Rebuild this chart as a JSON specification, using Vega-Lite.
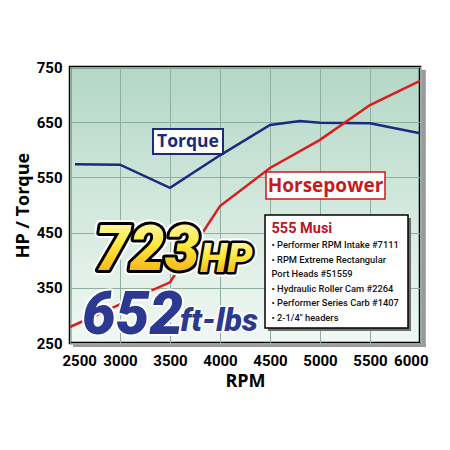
{
  "$schema": "https://vega.github.io/schema/vega-lite/v6.json",
  "width": 350,
  "height": 276,
  "autosize": {"type": "none"},
  "padding": {"left": 70, "top": 67, "right": 30, "bottom": 107},
  "background": "white",
  "view": {
    "stroke": "black",
    "strokeWidth": 2.5,
    "fill": {"gradient": "linear", "x1": 0, "y1": 0, "x2": 0, "y2": 1,
      "stops": [{"offset": 0, "color": "#b3d7c6"}, {"offset": 1, "color": "#f1f8f4"}]}
  },
  "datasets": {
    "curves": [
      {"rpm": 2550, "value": 574, "series": "Torque"},
      {"rpm": 3000, "value": 573, "series": "Torque"},
      {"rpm": 3500, "value": 531, "series": "Torque"},
      {"rpm": 4000, "value": 590, "series": "Torque"},
      {"rpm": 4500, "value": 645, "series": "Torque"},
      {"rpm": 4800, "value": 652, "series": "Torque"},
      {"rpm": 5000, "value": 649, "series": "Torque"},
      {"rpm": 5500, "value": 648, "series": "Torque"},
      {"rpm": 6000, "value": 630, "series": "Torque"},
      {"rpm": 2500, "value": 279, "series": "Horsepower"},
      {"rpm": 3000, "value": 320, "series": "Horsepower"},
      {"rpm": 3500, "value": 360, "series": "Horsepower"},
      {"rpm": 4000, "value": 498, "series": "Horsepower"},
      {"rpm": 4500, "value": 567, "series": "Horsepower"},
      {"rpm": 5000, "value": 618, "series": "Horsepower"},
      {"rpm": 5500, "value": 681, "series": "Horsepower"},
      {"rpm": 6000, "value": 725, "series": "Horsepower"}
    ]
  },
  "layer": [
    {
      "data": {"values": [{}]},
      "mark": {"type": "rect", "fill": "#9a9a9a", "clip": false},
      "encoding": {
        "x": {"datum": 2530, "type": "quantitative"},
        "x2": {"datum": 6060},
        "y": {"datum": 247.8, "type": "quantitative"},
        "y2": {"datum": 242.8}
      }
    },
    {
      "data": {"values": [{}]},
      "mark": {"type": "rect", "fill": "#9a9a9a", "clip": false},
      "encoding": {
        "x": {"datum": 6013, "type": "quantitative"},
        "x2": {"datum": 6058},
        "y": {"datum": 745, "type": "quantitative"},
        "y2": {"datum": 242.8}
      }
    },
    {
      "data": {"name": "curves"},
      "mark": {"type": "line", "strokeWidth": 2.5},
      "encoding": {
        "x": {
          "field": "rpm", "type": "quantitative",
          "scale": {"domain": [2500, 6000], "nice": false, "zero": false},
          "axis": {
            "values": [2500, 3000, 3500, 4000, 4500, 5000, 5500, 6000],
            "format": "d",
            "grid": true, "gridColor": "#8fae9f", "gridWidth": 1,
            "ticks": false, "domain": false,
            "labelFont": "Roboto", "labelFontWeight": "bold", "labelFontSize": 15,
            "labelColor": "black", "labelPadding": 10,
            "labelFlush": true, "labelFlushOffset": 8, "labelOverlap": false,
            "title": "RPM", "titleFont": "Open Sans", "titleFontSize": 18, "titleFontWeight": "bold",
            "titleColor": "black", "titlePadding": 4
          }
        },
        "y": {
          "field": "value", "type": "quantitative",
          "scale": {"domain": [250, 750], "nice": false, "zero": false},
          "axis": {
            "values": [250, 350, 450, 550, 650, 750],
            "format": "d",
            "grid": true, "gridColor": "#8fae9f", "gridWidth": 1,
            "ticks": false, "domain": false,
            "labelFont": "Roboto", "labelFontWeight": "bold", "labelFontSize": 15,
            "labelColor": "black", "labelPadding": 8, "labelOverlap": false,
            "title": "HP / Torque", "titleFont": "Open Sans", "titleFontSize": 18, "titleFontWeight": "bold",
            "titleColor": "black", "titlePadding": 4
          }
        },
        "color": {
          "field": "series", "type": "nominal",
          "scale": {"domain": ["Torque", "Horsepower"], "range": ["#1b2a7d", "#d91e1e"]},
          "legend": null
        },
        "detail": {"field": "series"}
      }
    },
    {
      "data": {"values": [{}]},
      "mark": {"type": "rect", "fill": "white", "stroke": "#1b2a7d", "strokeWidth": 2},
      "encoding": {
        "x": {"datum": 3330, "type": "quantitative"},
        "x2": {"datum": 4030},
        "y": {"datum": 637.7, "type": "quantitative"},
        "y2": {"datum": 592.4}
      }
    },
    {
      "data": {"values": [{}]},
      "mark": {"type": "text", "text": "Torque", "font": "Open Sans", "fontWeight": "bold", "fontSize": 17.5,
        "color": "#1b2a7d", "align": "center", "baseline": "middle"},
      "encoding": {
        "x": {"datum": 3680, "type": "quantitative"},
        "y": {"datum": 615, "type": "quantitative"}
      }
    },
    {
      "data": {"values": [{}]},
      "mark": {"type": "rect", "fill": "white", "stroke": "#c81a1a", "strokeWidth": 1.5},
      "encoding": {
        "x": {"datum": 4460, "type": "quantitative"},
        "x2": {"datum": 5650},
        "y": {"datum": 559.8, "type": "quantitative"},
        "y2": {"datum": 510.9}
      }
    },
    {
      "data": {"values": [{}]},
      "mark": {"type": "text", "text": "Horsepower", "font": "Open Sans", "fontWeight": "bold", "fontSize": 19,
        "color": "#c81a1a", "align": "center", "baseline": "middle"},
      "encoding": {
        "x": {"datum": 5055, "type": "quantitative"},
        "y": {"datum": 535, "type": "quantitative"}
      }
    },
    {
      "data": {"values": [{}]},
      "mark": {"type": "rect", "fill": "#6e6e6e"},
      "encoding": {
        "x": {"datum": 4480, "type": "quantitative"},
        "x2": {"datum": 5910},
        "y": {"datum": 476.4, "type": "quantitative"},
        "y2": {"datum": 271.7}
      }
    },
    {
      "data": {"values": [{}]},
      "mark": {"type": "rect", "fill": "white", "stroke": "black", "strokeWidth": 1.5},
      "encoding": {
        "x": {"datum": 4450, "type": "quantitative"},
        "x2": {"datum": 5880},
        "y": {"datum": 481.9, "type": "quantitative"},
        "y2": {"datum": 277.2}
      }
    },
    {
      "data": {"values": [{}]},
      "mark": {"type": "text", "text": "555 Musi", "font": "Roboto", "fontWeight": "bold", "fontSize": 14.5,
        "color": "#c0141c", "align": "left", "baseline": "alphabetic"},
      "encoding": {
        "x": {"datum": 4515, "type": "quantitative"},
        "y": {"datum": 449, "type": "quantitative"}
      }
    },
    {
      "data": {"values": [{}]},
      "mark": {"type": "text",
        "text": ["• Performer RPM Intake #7111", "• RPM Extreme Rectangular", "\u00a0\u00a0\u00a0Port Heads #51559", "• Hydraulic Roller Cam #2264", "• Performer Series Carb #1407", "• 2-1/4\" headers"],
        "lineHeight": 14.6,
        "font": "Roboto", "fontWeight": 500, "fontSize": 9.3,
        "color": "#111111", "align": "left", "baseline": "alphabetic"},
      "encoding": {
        "x": {"datum": 4515, "type": "quantitative"},
        "y": {"datum": 422, "type": "quantitative"}
      }
    },
    {
      "data": {"values": [{}]},
      "mark": {"type": "text", "text": "723", "font": "Roboto", "fontWeight": 900, "fontStyle": "italic",
        "fontSize": 62, "fill": "white", "stroke": "white", "strokeWidth": 10, "strokeJoin": "round",
        "align": "left", "baseline": "alphabetic"},
      "encoding": {"x": {"datum": 2750, "type": "quantitative"}, "y": {"datum": 382, "type": "quantitative"}}
    },
    {
      "data": {"values": [{}]},
      "mark": {"type": "text", "text": "723", "font": "Roboto", "fontWeight": 900, "fontStyle": "italic",
        "fontSize": 62, "fill": "black", "stroke": "black", "strokeWidth": 6, "strokeJoin": "round",
        "align": "left", "baseline": "alphabetic"},
      "encoding": {"x": {"datum": 2750, "type": "quantitative"}, "y": {"datum": 382, "type": "quantitative"}}
    },
    {
      "data": {"values": [{}]},
      "mark": {"type": "text", "text": "723", "font": "Roboto", "fontWeight": 900, "fontStyle": "italic",
        "fontSize": 62,
        "fill": {"gradient": "linear", "x1": 0, "y1": 0, "x2": 0, "y2": 1,
          "stops": [{"offset": 0, "color": "#fffbd2"}, {"offset": 0.45, "color": "#ffe93a"}, {"offset": 1, "color": "#f29a10"}]},
        "align": "left", "baseline": "alphabetic"},
      "encoding": {"x": {"datum": 2750, "type": "quantitative"}, "y": {"datum": 382, "type": "quantitative"}}
    },
    {
      "data": {"values": [{}]},
      "mark": {"type": "text", "text": "HP", "font": "Roboto", "fontWeight": 900, "fontStyle": "italic",
        "fontSize": 40, "fill": "white", "stroke": "white", "strokeWidth": 9, "strokeJoin": "round",
        "align": "left", "baseline": "alphabetic"},
      "encoding": {"x": {"datum": 3800, "type": "quantitative"}, "y": {"datum": 378.6, "type": "quantitative"}}
    },
    {
      "data": {"values": [{}]},
      "mark": {"type": "text", "text": "HP", "font": "Roboto", "fontWeight": 900, "fontStyle": "italic",
        "fontSize": 40, "fill": "black", "stroke": "black", "strokeWidth": 5, "strokeJoin": "round",
        "align": "left", "baseline": "alphabetic"},
      "encoding": {"x": {"datum": 3800, "type": "quantitative"}, "y": {"datum": 378.6, "type": "quantitative"}}
    },
    {
      "data": {"values": [{}]},
      "mark": {"type": "text", "text": "HP", "font": "Roboto", "fontWeight": 900, "fontStyle": "italic",
        "fontSize": 40,
        "fill": {"gradient": "linear", "x1": 0, "y1": 0, "x2": 0, "y2": 1,
          "stops": [{"offset": 0, "color": "#fffbd2"}, {"offset": 0.45, "color": "#ffe93a"}, {"offset": 1, "color": "#f29a10"}]},
        "align": "left", "baseline": "alphabetic"},
      "encoding": {"x": {"datum": 3800, "type": "quantitative"}, "y": {"datum": 378.6, "type": "quantitative"}}
    },
    {
      "data": {"values": [{}]},
      "mark": {"type": "text", "text": "652", "font": "Roboto", "fontWeight": 900, "fontStyle": "italic",
        "fontSize": 60, "fill": "#2b3990", "stroke": "white", "strokeWidth": 4, "strokeJoin": "round",
        "align": "left", "baseline": "alphabetic"},
      "encoding": {"x": {"datum": 2620, "type": "quantitative"}, "y": {"datum": 266.3, "type": "quantitative"}}
    },
    {
      "data": {"values": [{}]},
      "mark": {"type": "text", "text": "652", "font": "Roboto", "fontWeight": 900, "fontStyle": "italic",
        "fontSize": 60, "fill": "#2b3990",
        "align": "left", "baseline": "alphabetic"},
      "encoding": {"x": {"datum": 2620, "type": "quantitative"}, "y": {"datum": 266.3, "type": "quantitative"}}
    },
    {
      "data": {"values": [{}]},
      "mark": {"type": "text", "text": "ft-lbs", "font": "Roboto", "fontWeight": 900, "fontStyle": "italic",
        "fontSize": 32, "fill": "#2b3990", "stroke": "white", "strokeWidth": 3, "strokeJoin": "round",
        "align": "left", "baseline": "alphabetic"},
      "encoding": {"x": {"datum": 3600, "type": "quantitative"}, "y": {"datum": 271.7, "type": "quantitative"}}
    },
    {
      "data": {"values": [{}]},
      "mark": {"type": "text", "text": "ft-lbs", "font": "Roboto", "fontWeight": 900, "fontStyle": "italic",
        "fontSize": 32, "fill": "#2b3990",
        "align": "left", "baseline": "alphabetic"},
      "encoding": {"x": {"datum": 3600, "type": "quantitative"}, "y": {"datum": 271.7, "type": "quantitative"}}
    }
  ]
}
